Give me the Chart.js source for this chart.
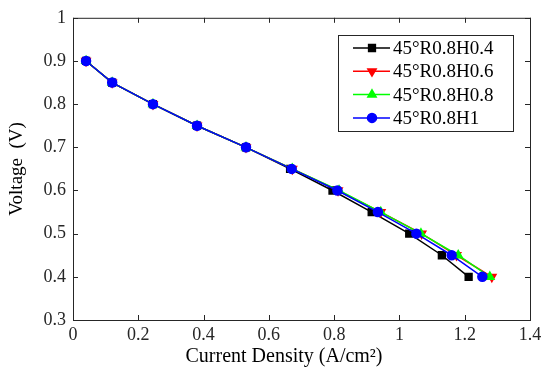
<!DOCTYPE html>
<html>
<head>
<meta charset="utf-8">
<script src="https://cdn.jsdelivr.net/npm/chart.js@4"></script>
<style>
  html, body { margin: 0; padding: 0; background: #fff; }
  #wrap { width: 550px; height: 374px; }
</style>
</head>
<body>
<div id="wrap"><canvas id="myChart" width="550" height="374"></canvas></div>
<script>
// polarisation curves
const voltage = [0.9, 0.85, 0.8, 0.75, 0.7, 0.65, 0.6, 0.55, 0.5, 0.45, 0.4];
const currH04 = [0.04, 0.12, 0.245, 0.38, 0.53, 0.665, 0.795, 0.915, 1.03, 1.13, 1.212];
const currH06 = [0.04, 0.12, 0.245, 0.38, 0.53, 0.672, 0.812, 0.943, 1.068, 1.175, 1.283];
const currH08 = [0.04, 0.12, 0.245, 0.38, 0.53, 0.672, 0.815, 0.943, 1.066, 1.18, 1.277];
const currH1  = [0.04, 0.12, 0.245, 0.38, 0.53, 0.67, 0.81, 0.934, 1.052, 1.16, 1.254];
const seriesNames = ['45°R0.8H0.4', '45°R0.8H0.6', '45°R0.8H0.8', '45°R0.8H1'];
const xTicks = [0, 0.2, 0.4, 0.6, 0.8, 1, 1.2, 1.4];
const yTicks = [0.3, 0.4, 0.5, 0.6, 0.7, 0.8, 0.9, 1];

const FONT = "'Liberation Serif', 'Times New Roman', serif";

const toPoints = (xs) => xs.map((x, i) => ({ x: x, y: voltage[i] }));

// MATLAB-like box with inward ticks on all four sides
const boxPlugin = {
  id: 'box',
  afterDraw(chart) {
    const { ctx, chartArea: a, scales } = chart;
    ctx.save();
    ctx.strokeStyle = '#262626';
    ctx.lineWidth = 1;
    ctx.strokeRect(a.left + 0.5, a.top + 0.5, a.right - a.left, a.bottom - a.top);
    const len = 5;
    ctx.beginPath();
    xTicks.forEach(v => {
      const px = Math.round(scales.x.getPixelForValue(v)) + 0.5;
      ctx.moveTo(px, a.bottom); ctx.lineTo(px, a.bottom - len);
      ctx.moveTo(px, a.top); ctx.lineTo(px, a.top + len);
    });
    yTicks.forEach(v => {
      const py = Math.round(scales.y.getPixelForValue(v)) + 0.5;
      ctx.moveTo(a.left, py); ctx.lineTo(a.left + len, py);
      ctx.moveTo(a.right, py); ctx.lineTo(a.right - len, py);
    });
    ctx.stroke();

    // legend box in the upper right
    const lx = 338, ly = 35, lw = 175, lh = 96;
    ctx.fillStyle = '#fff';
    ctx.fillRect(lx, ly, lw, lh);
    ctx.strokeStyle = '#262626';
    ctx.strokeRect(lx + 0.5, ly + 0.5, lw, lh);
    ctx.font = '19px ' + FONT;
    ctx.textBaseline = 'middle';
    chart.data.datasets.forEach((ds, i) => {
      const y = ly + 13 + i * 23.3;
      ctx.strokeStyle = ds.borderColor;
      ctx.lineWidth = 1.5;
      ctx.beginPath();
      ctx.moveTo(lx + 15, y); ctx.lineTo(lx + 52, y);
      ctx.stroke();
      ctx.fillStyle = ds.pointBackgroundColor;
      ctx.strokeStyle = ds.pointBorderColor;
      Chart.helpers.drawPoint(ctx, {
        pointStyle: ds.pointStyle, radius: ds.pointRadius, rotation: ds.rotation || 0,
        borderWidth: 1
      }, lx + 34, y);
      ctx.fillStyle = '#000';
      ctx.fillText(ds.label, lx + 55, y + 1);
    });
    ctx.restore();
  }
};

function makeSet(label, data, color, style, radius, rotation, order) {
  return {
    label, data, order,
    borderColor: color, backgroundColor: color,
    pointBackgroundColor: color, pointBorderColor: color,
    pointStyle: style, pointRadius: radius, rotation: rotation,
    borderWidth: 1.5, showLine: true, tension: 0
  };
}

new Chart(document.getElementById('myChart'), {
  type: 'scatter',
  data: {
    datasets: [
      makeSet(seriesNames[0], toPoints(currH04), '#000000', 'rect', 4.8, 0, 3),
      makeSet(seriesNames[1], toPoints(currH06), '#ff0000', 'triangle', 4.8, 180, 2),
      makeSet(seriesNames[2], toPoints(currH08), '#00ff00', 'triangle', 4.8, 0, 1),
      makeSet(seriesNames[3], toPoints(currH1), '#0000ff', 'circle', 4.5, 0, 0)
    ]
  },
  options: {
    responsive: false,
    animation: false,
    layout: { padding: { top: 17, right: 20, left: 0, bottom: 0 } },
    plugins: { legend: { display: false }, tooltip: { enabled: false } },
    scales: {
      x: {
        type: 'linear', min: 0, max: 1.4,
        afterBuildTicks: s => { s.ticks = xTicks.map(v => ({ value: v })); },
        afterFit: s => { s.height = 54; },
        grid: { display: false, drawTicks: false },
        border: { display: false },
        ticks: {
          color: '#262626', padding: 4, maxRotation: 0,
          font: { family: FONT, size: 18 },
          callback: v => String(+v.toFixed(1))
        },
        title: {
          // trailing spaces nudge the label left, as in the original
          display: true, text: 'Current Density (A/cm²)\u00a0\u00a0\u00a0\u00a0\u00a0\u00a0\u00a0', color: '#000',
          font: { family: FONT, size: 20 }, padding: { top: 0, bottom: 5 }
        }
      },
      y: {
        type: 'linear', min: 0.3, max: 1,
        afterBuildTicks: s => { s.ticks = yTicks.map(v => ({ value: v })); },
        afterFit: s => { s.width = 73; },
        grid: { display: false, drawTicks: false },
        border: { display: false },
        ticks: {
          color: '#262626', padding: 7,
          font: { family: FONT, size: 18 },
          callback: v => String(+v.toFixed(1))
        },
        title: {
          display: true, text: 'Voltage  (V)', color: '#000',
          font: { family: FONT, size: 19 }, padding: { top: 6, bottom: 0 }
        }
      }
    }
  },
  plugins: [boxPlugin]
});
</script>
</body>
</html>
